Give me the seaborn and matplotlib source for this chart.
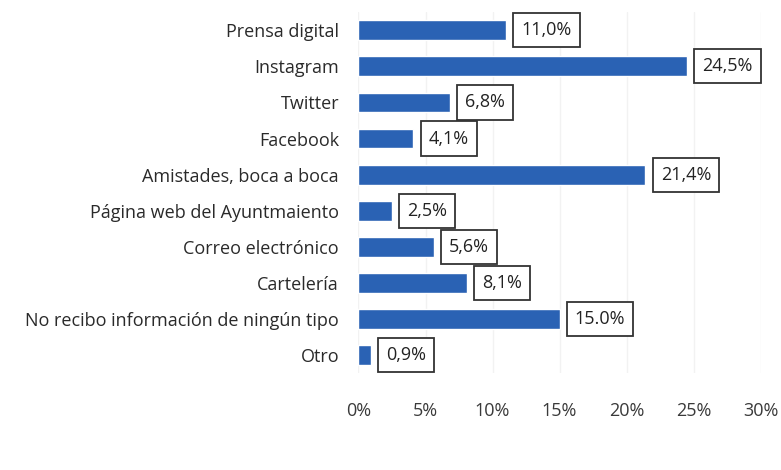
import pandas as pd
import numpy as np
import matplotlib
matplotlib.use('Agg')
import matplotlib.pyplot as plt
import seaborn as sns

# datos
categorias = ['Prensa digital', 'Instagram', 'Twitter', 'Facebook',
              'Amistades, boca a boca', 'Página web del Ayuntmaiento',
              'Correo electrónico', 'Cartelería',
              'No recibo información de ningún tipo', 'Otro']
porcentajes = [11.0, 24.5, 6.8, 4.1, 21.4, 2.5, 5.6, 8.1, 15.0, 0.9]
etiquetas = ['11,0%', '24,5%', '6,8%', '4,1%', '21,4%', '2,5%', '5,6%', '8,1%', '15.0%', '0,9%']
ticks_x = [0, 5, 10, 15, 20, 25, 30]

sns.set_theme(style='white')
plt.rcParams['font.family'] = ['Open Sans', 'DejaVu Sans']

df = pd.DataFrame({'medio': categorias, 'pct': porcentajes})

fig = plt.figure(figsize=(7.81, 4.70), dpi=100)
ax = fig.add_axes([0.459, 0.206, 0.515, 0.768])

sns.barplot(data=df, y='medio', x='pct', color='#2a62b4', width=0.55,
            saturation=1, ax=ax, zorder=3)

ax.bar_label(ax.containers[0], labels=etiquetas, padding=11, fontsize=13,
             color='#222222',
             bbox=dict(boxstyle='square,pad=0.45', fc='white', ec='#333333', lw=1.3))

ax.set_xlim(0, 30)
ax.set_xticks(ticks_x)
ax.set_xticklabels([f'{t}%' for t in ticks_x], fontsize=13, color='#3a3a3a')
ax.tick_params(axis='x', pad=21, length=0)
ax.tick_params(axis='y', labelsize=13, labelcolor='#2a2a2a', length=0, pad=14)
ax.set_xlabel('')
ax.set_ylabel('')
ax.grid(axis='x', color='#f2f2f2', lw=1, zorder=0)
sns.despine(ax=ax, left=True, bottom=True)

fig.savefig('out.png', dpi=100)
